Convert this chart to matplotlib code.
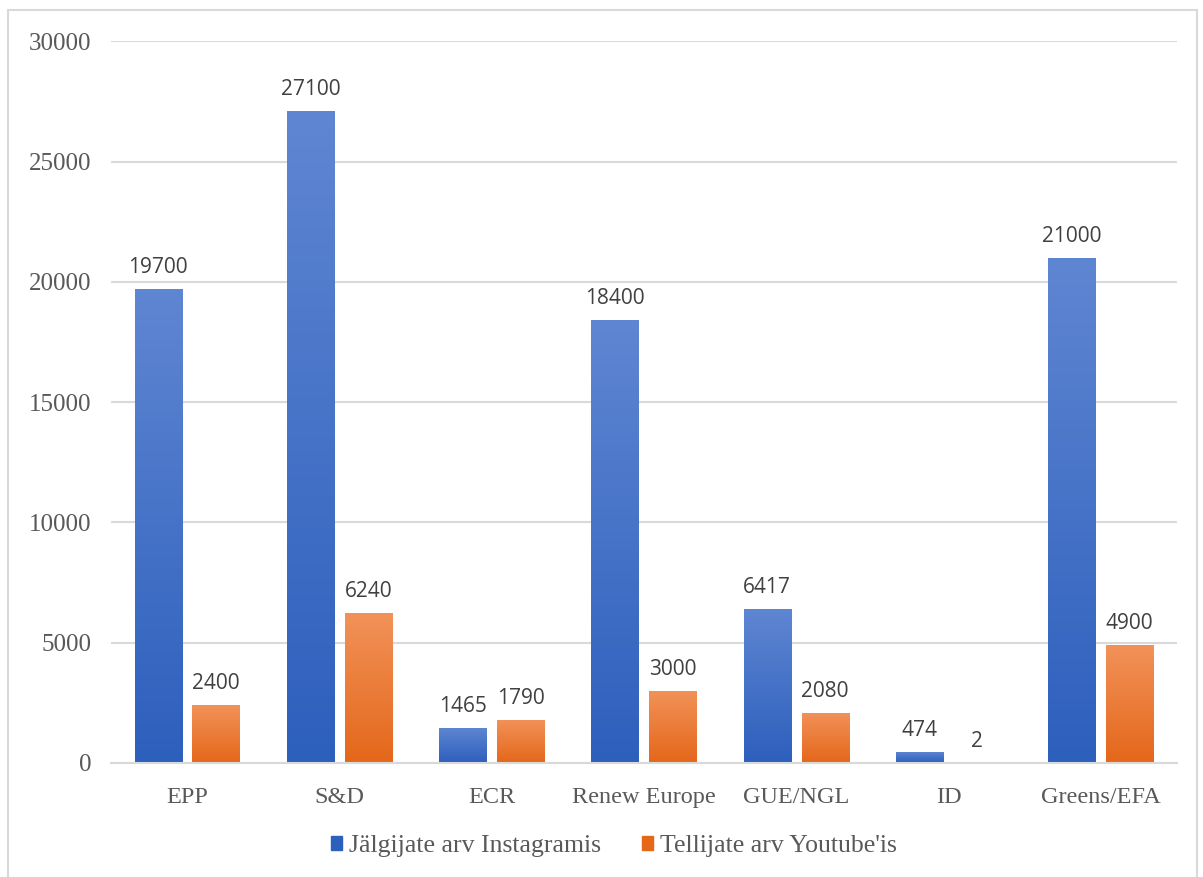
import matplotlib
matplotlib.use('Agg')
import matplotlib.pyplot as plt
import numpy as np
from matplotlib.patches import Rectangle

categories = ["EPP", "S&D", "ECR", "Renew Europe", "GUE/NGL", "ID", "Greens/EFA"]
instagram = [19700, 27100, 1465, 18400, 6417, 474, 21000]
youtube = [2400, 6240, 1790, 3000, 2080, 2, 4900]
series_names = ["Jälgijate arv Instagramis", "Tellijate arv Youtube'is"]

blue_top, blue_bot = "#5f86d2", "#2d5fbd"
orange_top, orange_bot = "#f29259", "#e4671a"

fig = plt.figure(figsize=(12.03, 8.77), dpi=100)
ax = fig.add_axes([0.0923, 0.130, 0.886, 0.823])

# outer border like the chart area
fig.patches.append(Rectangle((0.0066, -0.01), 0.9885, 0.9985, transform=fig.transFigure,
                             fill=False, edgecolor="#d9d9d9", lw=1.5))

x = np.arange(len(categories))
w = 0.31
off = 0.19


def gradient_bars(bars, c_top, c_bot):
    top = np.array(matplotlib.colors.to_rgb(c_top))
    bot = np.array(matplotlib.colors.to_rgb(c_bot))
    t = np.linspace(0, 1, 256)[:, None]
    img = (top * (1 - t) + bot * t)[:, None, :]
    for b in bars:
        x0, y0 = b.get_x(), b.get_y()
        h = b.get_height()
        if h <= 0:
            continue
        im = ax.imshow(img, extent=[x0, x0 + b.get_width(), y0, y0 + h],
                       aspect="auto", origin="upper", zorder=2)
        im.set_clip_path(b)
        b.set_facecolor("none")


b1 = ax.bar(x - off, instagram, w, color=blue_bot, zorder=2, label=series_names[0], lw=0)
b2 = ax.bar(x + off, youtube, w, color=orange_bot, zorder=2, label=series_names[1], lw=0)
gradient_bars(b1, blue_top, blue_bot)
gradient_bars(b2, orange_top, orange_bot)

label_font = dict(family="Open Sans", fontsize=15, color="#404040")
for xi, v in zip(x - off, instagram):
    ax.text(xi, v + 450, str(v), ha="center", va="bottom", **label_font)
for xi, v in zip(x + off, youtube):
    ax.text(xi, v + 450, str(v), ha="center", va="bottom", **label_font)

ax.set_xlim(-0.5, len(categories) - 0.5)
ax.set_ylim(0, 30000)
ax.set_yticks(np.arange(0, 30001, 5000))
ax.set_xticks(x)
ax.set_xticklabels(categories)
ax.tick_params(axis="x", length=0, labelsize=17.5, labelcolor="#595959", pad=17)
ax.tick_params(axis="y", length=0, labelsize=18, labelcolor="#595959", pad=14)
for lab in ax.get_xticklabels() + ax.get_yticklabels():
    lab.set_family("Liberation Serif")
ax.yaxis.grid(True, color="#d9d9d9", lw=1.5, zorder=0)
ax.set_axisbelow(True)
for s in ["top", "right", "left"]:
    ax.spines[s].set_visible(False)
ax.spines["bottom"].set_color("#d9d9d9")
ax.spines["bottom"].set_linewidth(1.5)

handles = [Rectangle((0, 0), 1, 1, color=blue_bot), Rectangle((0, 0), 1, 1, color=orange_bot)]
leg = fig.legend(handles, series_names, loc="center", bbox_to_anchor=(0.51, 0.035), ncol=2,
                 frameon=False, prop=dict(family="Liberation Serif", size=18.5),
                 handlelength=0.45, handleheight=0.45, handletextpad=0.25, columnspacing=1.6)
for t in leg.get_texts():
    t.set_color("#595959")

fig.savefig("out.png", dpi=100)
